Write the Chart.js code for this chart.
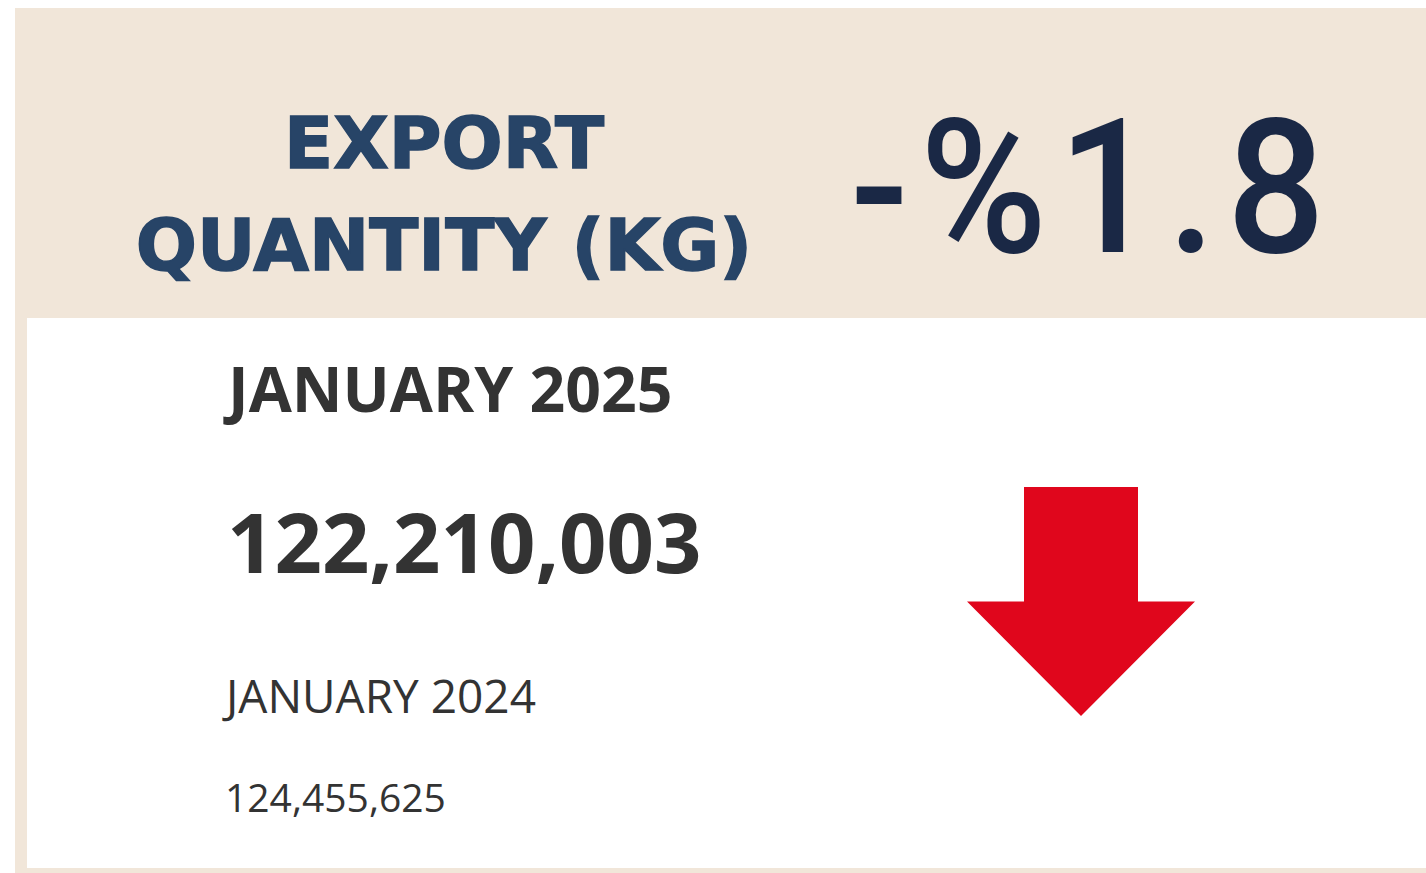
<!DOCTYPE html>
<html>
<head>
<meta charset="utf-8">
<title>Export quantity (kg)</title>
<script src="https://cdn.jsdelivr.net/npm/chart.js@4/dist/chart.umd.min.js"></script>
<style>
    html, body { margin: 0; padding: 0; background: #fff; }
    body { width: 1426px; height: 873px; position: relative; overflow: hidden; }
    .card { position: absolute; left: 15px; top: 8px; width: 1411px; height: 865px; background: #f1e6d9; }
    .inner { position: absolute; left: 27px; top: 318px; width: 1399px; height: 550px; background: #fff; }
    .title { position: absolute; left: 0; width: 888px; text-align: center; white-space: nowrap;
             font-family: 'DejaVu Sans', sans-serif; font-weight: bold; font-size: 72px; line-height: 1; color: #274467;
             -webkit-text-stroke: 1.5px #274467; }
    .pct { position: absolute; left: 850px; top: 94px; white-space: nowrap;
           font-family: Roboto, sans-serif; font-weight: 500; font-size: 188px; line-height: 1; color: #1a2845;
           letter-spacing: 12px; transform: scaleX(0.92); transform-origin: left top; }
    .txt { position: absolute; left: 222px; white-space: nowrap; font-family: 'Open Sans', sans-serif;
           line-height: 1; color: #333333; }
    #cur-label { top: 357px; left: 228px; font-size: 62.5px; font-weight: bold; }
    #cur-value { top: 499px; left: 227px; font-size: 83px; font-weight: bold; }
    #prev-label { top: 672px; left: 226px; font-size: 46px; }
    #prev-value { top: 777px; left: 225px; font-size: 39px; }
    .arrow-box { position: absolute; left: 967px; top: 487px; width: 228px; height: 229px; }
</style>
</head>
<body>
<div class="card"></div>
<div class="inner"></div>

<div class="title" id="title-1" style="top:107px">EXPORT</div>
<div class="title" id="title-2" style="top:209px">QUANTITY (KG)</div>
<div class="pct" id="pct"></div>

<div class="txt" id="cur-label"></div>
<div class="txt" id="cur-value"></div>
<div class="txt" id="prev-label"></div>
<div class="txt" id="prev-value"></div>

<div class="arrow-box"><canvas id="arrow-chart"></canvas></div>

<script>
// --- data ---
const periods = ['JANUARY 2024', 'JANUARY 2025'];
const quantityKg = [124455625, 122210003];

const prev = quantityKg[0];
const cur = quantityKg[1];
const change = (cur - prev) / prev * 100;

// Turkish style percent: sign, then %, then the number
const pctText = (change < 0 ? '-' : '+') + '%' + Math.abs(change).toFixed(1);

document.getElementById('pct').textContent = pctText;
document.getElementById('cur-label').textContent = periods[1];
document.getElementById('cur-value').textContent = cur.toLocaleString('en-US');
document.getElementById('prev-label').textContent = periods[0];
document.getElementById('prev-value').textContent = prev.toLocaleString('en-US');

// draws the up/down arrow from the sign of the change
const trendArrow = {
    id: 'trendArrow',
    afterDraw(chart) {
        const vals = chart.data.datasets[0].data;
        const down = vals[1] < vals[0];
        const { left, right, top, bottom } = chart.chartArea;
        const w = right - left, h = bottom - top;
        const cx = left + w / 2;
        const shaftHalf = w * 0.25;
        const ctx = chart.ctx;
        ctx.save();
        ctx.fillStyle = down ? '#e0061c' : '#1e9e4a';
        ctx.beginPath();
        if (down) {
            ctx.moveTo(cx - shaftHalf, top);
            ctx.lineTo(cx + shaftHalf, top);
            ctx.lineTo(cx + shaftHalf, top + h * 0.5);
            ctx.lineTo(right, top + h * 0.5);
            ctx.lineTo(cx, bottom);
            ctx.lineTo(left, top + h * 0.5);
            ctx.lineTo(cx - shaftHalf, top + h * 0.5);
        } else {
            ctx.moveTo(cx - shaftHalf, bottom);
            ctx.lineTo(cx + shaftHalf, bottom);
            ctx.lineTo(cx + shaftHalf, bottom - h * 0.5);
            ctx.lineTo(right, bottom - h * 0.5);
            ctx.lineTo(cx, top);
            ctx.lineTo(left, bottom - h * 0.5);
            ctx.lineTo(cx - shaftHalf, bottom - h * 0.5);
        }
        ctx.closePath();
        ctx.fill();
        ctx.restore();
    }
};

new Chart(document.getElementById('arrow-chart'), {
    type: 'bar',
    data: {
        labels: periods,
        datasets: [{ label: 'Export quantity (kg)', data: quantityKg, hidden: true }]
    },
    options: {
        responsive: true,
        maintainAspectRatio: false,
        animation: false,
        layout: { padding: 0 },
        plugins: { legend: { display: false }, tooltip: { enabled: false } },
        scales: { x: { display: false }, y: { display: false } }
    },
    plugins: [trendArrow]
});
</script>
</body>
</html>
